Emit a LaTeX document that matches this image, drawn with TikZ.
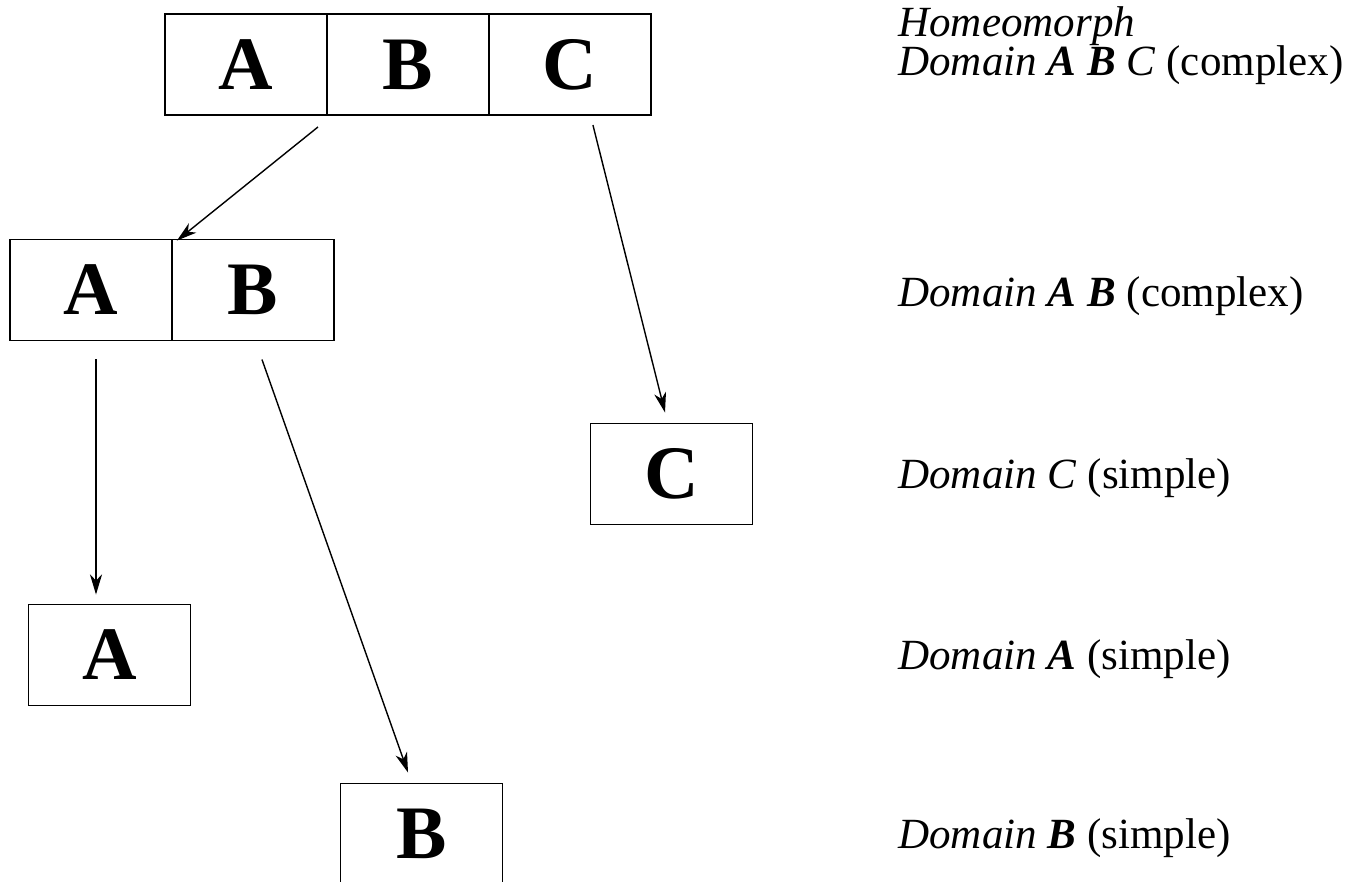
\documentclass[tikz,border=0pt]{standalone}
\usepackage{fontspec}
\setmainfont{Liberation Serif}
\usetikzlibrary{positioning,arrows.meta}

\begin{document}
\begin{tikzpicture}[x=0.02cm, y=-0.02cm,
    cell/.style={draw, line width=1.1pt, minimum width=3.24cm, minimum height=2.02cm,
      inner sep=0pt, outer sep=0pt, font=\fontsize{43}{46}\selectfont\bfseries},
    lbl/.style={anchor=base west, inner sep=0pt, align=left,
      font=\fontsize{24.5}{22.7}\selectfont},
    arr/.style={line width=0.8pt, -{Stealth[length=4mm, width=2.4mm, inset=1.2mm]}}]
        \useasboundingbox (0,0) rectangle (1362,882);
        % A B C
        \node[cell] (abcA) at (246,64.5) {A};
        \node[cell, right=0pt of abcA] (abcB) {B};
        \node[cell, right=0pt of abcB] (abcC) {C};
        % A B
        \node[cell] (abA) at (91,290) {A};
        \node[cell, right=0pt of abA] (abB) {B};
        % simple ones
        \node[cell] (boxC) at (671.5,474) {C};
        \node[cell] (boxA) at (109.5,655) {A};
        \node[cell] (boxB) at (421.5,834) {B};
        % arrows
        \draw[arr] ([shift={(-9,12)}]abcB.south west) -- ([shift={(5,1)}]abB.north west);
        \draw[arr] ([shift={(23,10)}]abcC.south) -- ([shift={(-6.5,-11)}]boxC.north);
        \draw[arr] ([shift={(5,19)}]abA.south) -- ([shift={(-13.5,-10)}]boxA.north);
        \draw[arr] ([shift={(9,19)}]abB.south) -- ([shift={(-13.5,-11)}]boxB.north);
        % labels on the right
        \node[lbl] (labc) at (898,76) {\textit{Homeomorph}\\\textit{Domain \textbf{A} \textbf{B} C} (complex)};
        \node[lbl] (lab) at (898,306) {\textit{Domain \textbf{A} \textbf{B}} (complex)};
        \node[lbl] (lc) at (898,488) {\textit{Domain C} (simple)};
        \node[lbl] (la) at (898,669) {\textit{Domain \textbf{A}} (simple)};
        \node[lbl] (lb) at (898,848) {\textit{Domain \textbf{B}} (simple)};
\end{tikzpicture}
\end{document}
